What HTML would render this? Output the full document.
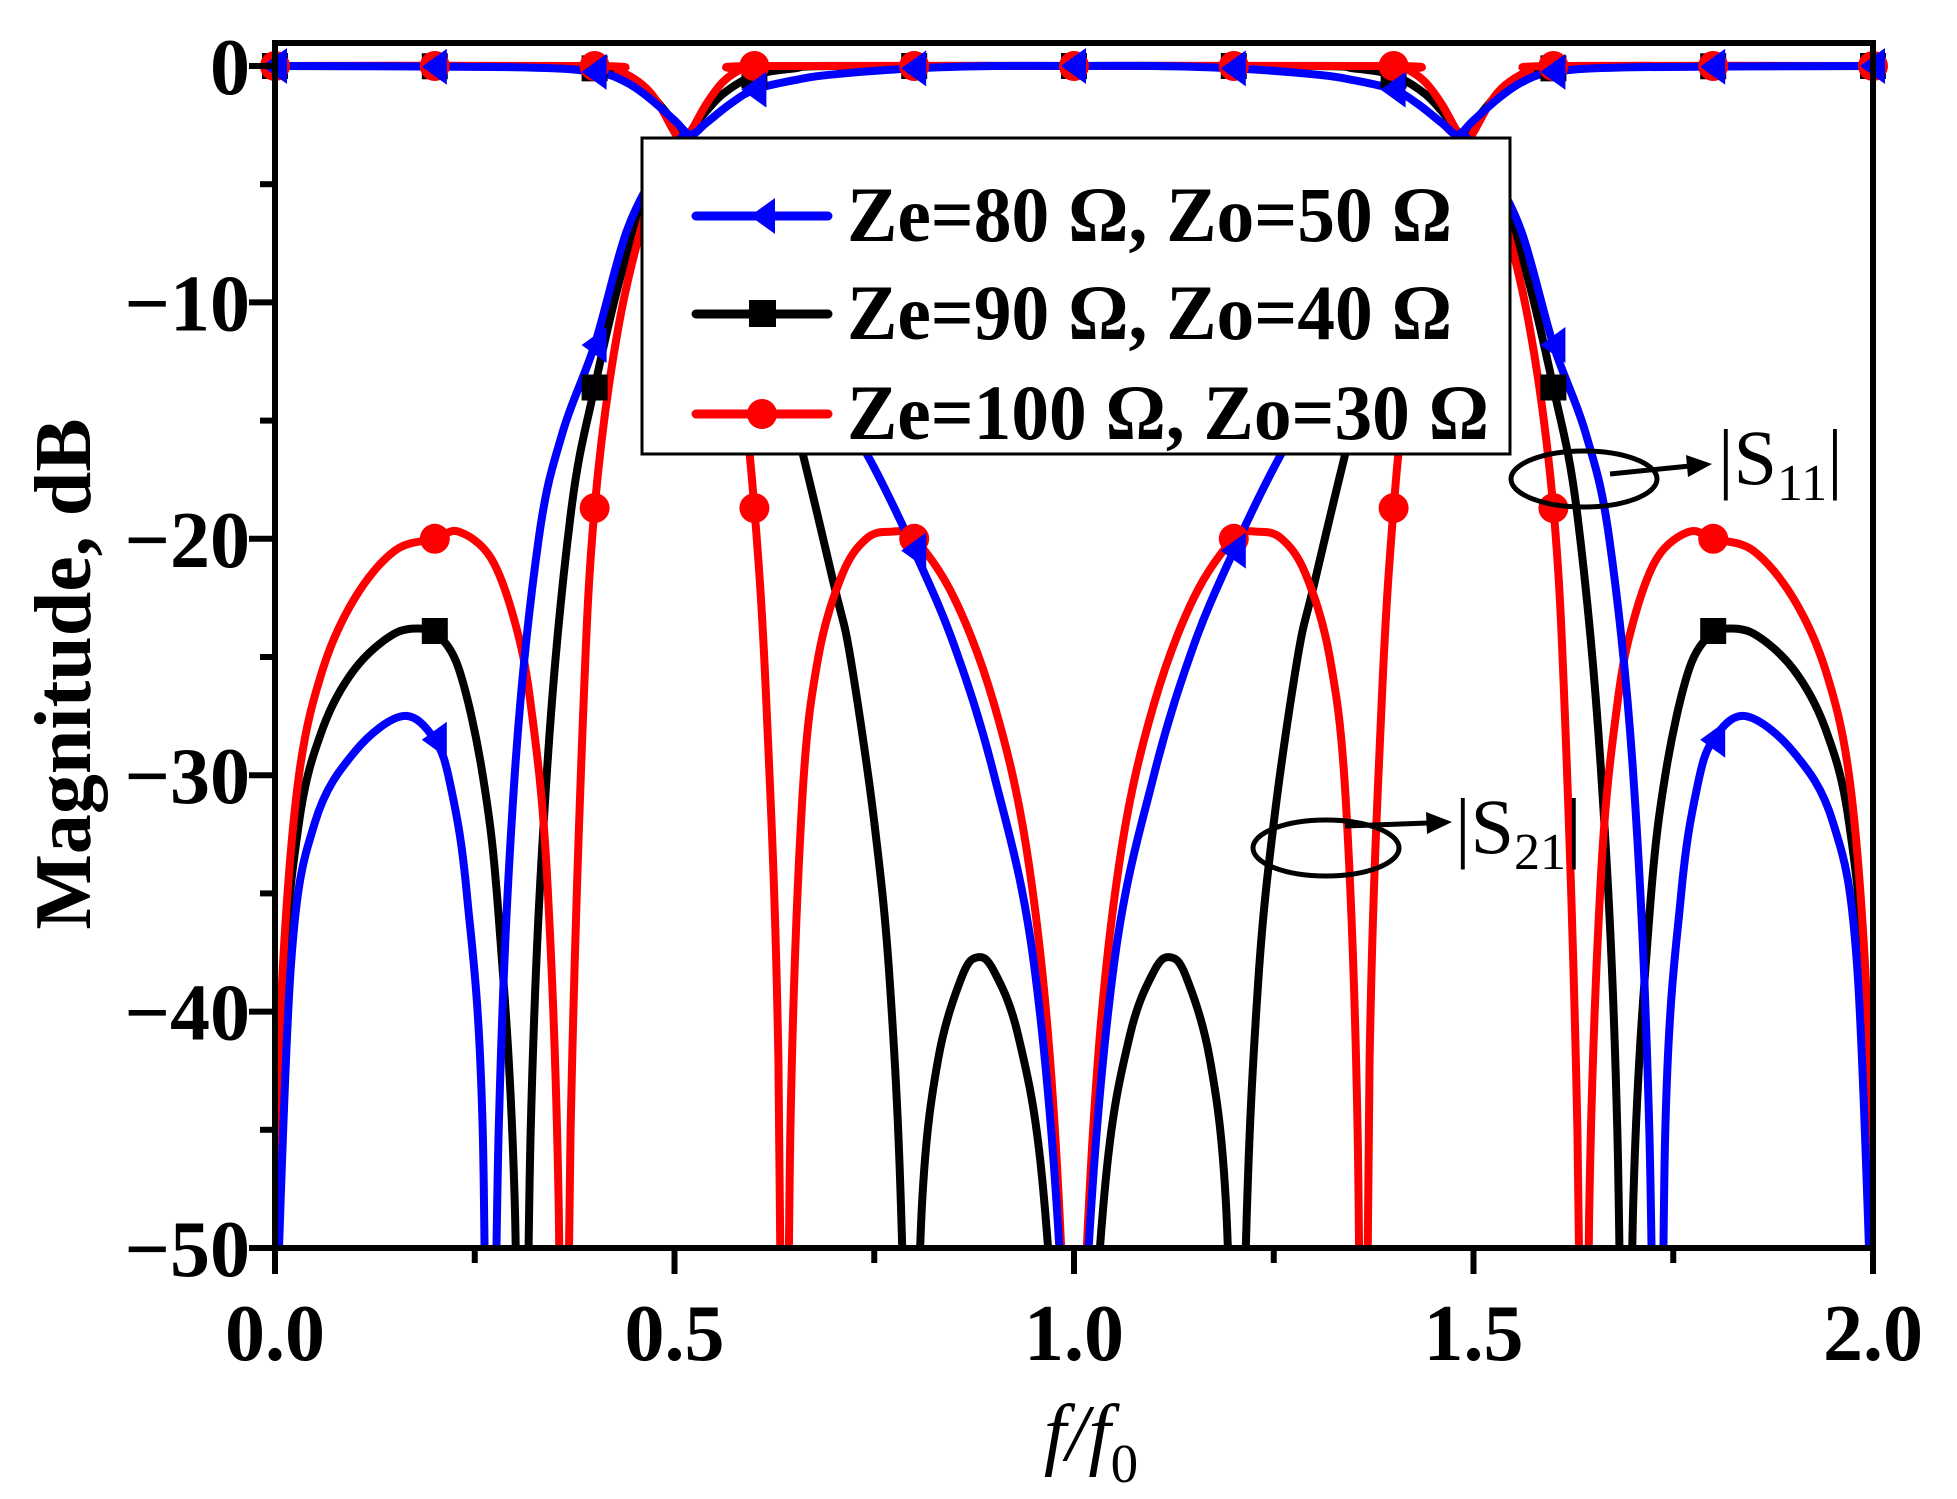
<!DOCTYPE html>
<html><head><meta charset="utf-8"><style>
html,body{margin:0;padding:0;background:#fff;overflow:hidden;width:1957px;height:1499px;}
svg{display:block;}
text{font-family:"Liberation Serif",serif;}
</style></head><body>
<svg id="chart" width="1957" height="1499" viewBox="0 0 1957 1499" xmlns="http://www.w3.org/2000/svg">
<defs><clipPath id="plotclip"><rect x="275" y="43" width="1598" height="1205"/></clipPath></defs>
<rect x="0" y="0" width="1957" height="1499" fill="#fff"/>
<g id="curves" clip-path="url(#plotclip)"></g>
<g id="markers"></g>
<g id="axes"></g>
<text x="0" y="0" transform="translate(90,674) rotate(-90)" text-anchor="middle" font-size="80" font-weight="bold">Magnitude, dB</text>
<text x="1091" y="1460" text-anchor="middle" font-size="80" font-style="italic">f/f<tspan font-size="55" dy="22" font-style="normal">0</tspan></text>
<g>
<rect x="642" y="138" width="868" height="316" fill="#fff" stroke="#000" stroke-width="3"/>
<g>
<line x1="696" y1="216" x2="828" y2="216" stroke="#0000ff" stroke-width="9" stroke-linecap="round"/>
<polygon points="750,216 775,198 775,234" fill="#0000ff"/>
<text x="847" y="241" font-size="78" font-weight="bold" textLength="605" lengthAdjust="spacingAndGlyphs">Ze=80 Ω, Zo=50 Ω</text></g>
<g>
<line x1="696" y1="314" x2="828" y2="314" stroke="#000" stroke-width="9" stroke-linecap="round"/>
<rect x="749" y="300" width="27" height="27" fill="#000"/>
<text x="847" y="339" font-size="78" font-weight="bold" textLength="605" lengthAdjust="spacingAndGlyphs">Ze=90 Ω, Zo=40 Ω</text></g>
<g>
<line x1="696" y1="414" x2="828" y2="414" stroke="#ff0000" stroke-width="9" stroke-linecap="round"/>
<circle cx="762" cy="414" r="15" fill="#ff0000"/>
<text x="847" y="439" font-size="78" font-weight="bold" textLength="642" lengthAdjust="spacingAndGlyphs">Ze=100 Ω, Zo=30 Ω</text></g>
</g>
<g>
<ellipse cx="1584" cy="479" rx="73" ry="28" fill="none" stroke="#000" stroke-width="5"/>
<line x1="1610" y1="474" x2="1690" y2="466" stroke="#000" stroke-width="5"/>
<polygon points="1712,464 1686,455 1688,477" fill="#000"/>
<text x="1718" y="484" font-size="78">|S<tspan font-size="52" dy="16">11</tspan><tspan dy="-16">|</tspan></text>
</g>
<g>
<ellipse cx="1326" cy="848" rx="73" ry="28" fill="none" stroke="#000" stroke-width="5"/>
<line x1="1345" y1="826" x2="1428" y2="823" stroke="#000" stroke-width="5"/>
<polygon points="1452,822 1426,812 1427,834" fill="#000"/>
<text x="1455" y="853" font-size="78">|S<tspan font-size="52" dy="16">21</tspan><tspan dy="-16">|</tspan></text>
</g>
</svg>
<script>
// ---- data (f/f0, dB) ----
const blueS11F = [0,0.02,0.05,0.1,0.16,0.2,0.22,0.24,0.26,0.268,0.28,0.3,0.33,0.36,0.4,0.44,0.48,0.5,0.52,0.56,0.6,0.65,0.7,0.75,0.8,0.85,0.9,0.95,0.985,1.0,1.015,1.05,1.1,1.15,1.2,1.25,1.3,1.35,1.4,1.44,1.48,1.5,1.52,1.56,1.6,1.64,1.67,1.7,1.72,1.732,1.74,1.76,1.78,1.8,1.84,1.9,1.95,1.98,2.0];
const blueS11 = [-55,-38,-32,-29,-27.5,-28.5,-30.5,-35,-45,-70,-45,-30,-20,-15.5,-11.8,-7,-4.3,-3.4,-3.0,-5,-7.5,-11,-14,-17,-20.5,-24.5,-30,-38,-52,-70,-52,-38,-30,-24.5,-20.5,-17,-14,-11,-7.5,-5,-3.0,-3.4,-4.3,-7,-11.8,-15.5,-20,-30,-45,-70,-45,-35,-30.5,-28.5,-27.5,-29,-32,-38,-55];
const blackS11F = [0,0.01,0.03,0.06,0.1,0.15,0.19,0.2,0.23,0.26,0.28,0.3,0.309,0.32,0.34,0.37,0.4,0.44,0.48,0.515,0.55,0.6,0.65,0.7,0.72,0.75,0.77,0.785,0.795,0.8,0.81,0.83,0.86,0.88,0.9,0.93,0.96,0.985,1.0,1.015,1.04,1.07,1.1,1.12,1.14,1.17,1.19,1.2,1.205,1.215,1.23,1.25,1.28,1.3,1.35,1.4,1.45,1.485,1.52,1.56,1.6,1.63,1.66,1.68,1.691,1.7,1.72,1.74,1.77,1.8,1.81,1.85,1.9,1.94,1.97,1.99,2.0];
const blackS11 = [-60,-40,-32,-28,-25.5,-24,-23.8,-23.9,-25.5,-30,-36,-48,-70,-45,-30,-19,-13.6,-8,-4.5,-3,-5,-9,-15,-22,-25,-32,-39,-50,-70,-60,-48,-42,-38.5,-37.7,-38.3,-41,-47,-60,-75,-60,-47,-41,-38.3,-37.7,-38.5,-42,-48,-60,-70,-50,-39,-32,-25,-22,-15,-9,-5,-3,-4.5,-8,-13.6,-19,-30,-45,-70,-48,-36,-30,-25.5,-23.9,-23.8,-24,-25.5,-28,-32,-40,-60];
const redS11F = [0,0.01,0.03,0.06,0.1,0.15,0.2,0.23,0.27,0.3,0.32,0.34,0.355,0.36,0.37,0.385,0.4,0.43,0.47,0.5,0.53,0.56,0.58,0.6,0.615,0.63,0.638,0.645,0.66,0.68,0.71,0.74,0.77,0.8,0.85,0.9,0.94,0.97,0.99,1.0,1.01,1.03,1.06,1.1,1.15,1.2,1.23,1.26,1.29,1.32,1.34,1.355,1.362,1.37,1.385,1.4,1.42,1.44,1.47,1.5,1.53,1.57,1.6,1.615,1.63,1.64,1.645,1.66,1.68,1.7,1.73,1.77,1.8,1.85,1.9,1.94,1.97,1.99,2.0];
const redS11 = [-48,-38,-30,-25.5,-22.5,-20.5,-20,-19.7,-20.8,-23.5,-27,-34,-48,-70,-45,-28,-18.7,-11,-5.5,-3.2,-4,-7.5,-12,-18.7,-27,-42,-70,-45,-31,-25,-21.5,-20,-19.7,-20,-22.5,-27,-33,-42,-55,-70,-55,-42,-33,-27,-22.5,-20,-19.7,-20,-21.5,-25,-31,-45,-70,-42,-27,-18.7,-12,-7.5,-4,-3.2,-5.5,-11,-18.7,-28,-45,-70,-48,-34,-27,-23.5,-20.8,-19.7,-20,-20.5,-22.5,-25.5,-30,-38,-48];
const blueS21F = [0,0.3,0.4,0.44,0.47,0.5,0.52,0.54,0.57,0.6,0.65,0.7,0.8,0.9,1.0,1.1,1.2,1.3,1.35,1.4,1.43,1.46,1.48,1.5,1.53,1.56,1.6,1.7,2.0];
const blueS21 = [0,-0.05,-0.25,-0.7,-1.4,-2.3,-2.9,-2.4,-1.6,-1.0,-0.6,-0.35,-0.1,0,0,0,-0.1,-0.35,-0.6,-1.0,-1.6,-2.4,-2.9,-2.3,-1.4,-0.7,-0.25,-0.05,0];
const blackS21F = [0,0.35,0.4,0.44,0.47,0.5,0.515,0.53,0.56,0.6,0.65,0.7,1.0,1.3,1.35,1.4,1.44,1.47,1.485,1.5,1.53,1.56,1.6,1.65,2.0];
const blackS21 = [0,-0.02,-0.1,-0.5,-1.2,-2.4,-2.9,-2.3,-1.2,-0.4,-0.1,0,0,0,-0.1,-0.4,-1.2,-2.3,-2.9,-2.4,-1.2,-0.5,-0.1,-0.02,0];
const redS21F = [0,0.4,0.43,0.46,0.48,0.5,0.51,0.52,0.54,0.56,0.58,0.6,1.0,1.4,1.42,1.44,1.46,1.48,1.49,1.5,1.52,1.54,1.57,1.6,2.0];
const redS21 = [0,0,-0.2,-0.8,-1.6,-2.8,-3.2,-2.8,-1.6,-0.7,-0.2,0,0,0,-0.2,-0.7,-1.6,-2.8,-3.2,-2.8,-1.6,-0.8,-0.2,0,0];
const markerF = [0,0.2,0.4,0.6,0.8,1.0,1.2,1.4,1.6,1.8,2.0];
const xTicks = [0,0.5,1.0,1.5,2.0];
const xTickLabels = ["0.0","0.5","1.0","1.5","2.0"];
const yTicks = [0,-10,-20,-30,-40,-50];
const yTickLabels = ["0","\u221210","\u221220","\u221230","\u221240","\u221250"];

// ---- axis functions ----
const X0=275, X1=1873, Y0=66, Y1=1248;
const sx = f => X0 + (f-0)/(2-0)*(X1-X0);
const sy = d => Y0 + (0-d)/(0-(-50))*(Y1-Y0);
const NS="http://www.w3.org/2000/svg";
function mk(tag, attrs){const e=document.createElementNS(NS,tag);for(const k in attrs)e.setAttribute(k,attrs[k]);return e;}
function pathD(F,V){
  const p=F.map((f,i)=>[sx(f),sy(V[i])]);
  let d=`M${p[0][0].toFixed(1)},${p[0][1].toFixed(1)}`;
  for(let i=0;i<p.length-1;i++){
    const a=p[Math.max(0,i-1)],b=p[i],c=p[i+1],e=p[Math.min(p.length-1,i+2)];
    const t=6;
    d+=` C${(b[0]+(c[0]-a[0])/t).toFixed(1)},${(b[1]+(c[1]-a[1])/t).toFixed(1)} ${(c[0]-(e[0]-b[0])/t).toFixed(1)},${(c[1]-(e[1]-b[1])/t).toFixed(1)} ${c[0].toFixed(1)},${c[1].toFixed(1)}`;
  }
  return d;
}
function interp(F,V,f){
  for(let i=0;i<F.length-1;i++){if(f>=F[i]&&f<=F[i+1]){const t=(f-F[i])/(F[i+1]-F[i]);return V[i]+t*(V[i+1]-V[i]);}}
  return V[V.length-1];
}
const curves=document.getElementById('curves');
const markers=document.getElementById('markers');
const series=[
 {name:'ze90',color:'#000000',shape:'square',s11F:blackS11F,s11:blackS11,s21F:blackS21F,s21:blackS21},
 {name:'ze100',color:'#ff0000',shape:'circle',s11F:redS11F,s11:redS11,s21F:redS21F,s21:redS21},
 {name:'ze80',color:'#0000ff',shape:'triangle',s11F:blueS11F,s11:blueS11,s21F:blueS21F,s21:blueS21}
];
series.forEach(s=>{
  [['s11',s.s11F,s.s11],['s21',s.s21F,s.s21]].forEach(([kind,F,V])=>{
    const p=mk('path',{d:pathD(F,V),fill:'none',stroke:s.color,'stroke-width':8,'stroke-linejoin':'round'});
    
    
    curves.appendChild(p);
    markerF.forEach(f=>{
      const v=interp(F,V,f);
      if(v<-40) return;
      const cx=sx(f), cy=sy(v);
      let m;
      if(s.shape==='square') m=mk('rect',{x:cx-13,y:cy-13,width:26,height:26,fill:s.color});
      else if(s.shape==='circle') m=mk('circle',{cx:cx,cy:cy,r:15,fill:s.color});
      else m=mk('polygon',{points:`${cx-13},${cy} ${cx+12},${cy-18} ${cx+12},${cy+18}`,fill:s.color});
      
      
      markers.appendChild(m);
    });
  });
});
// ---- axes ----
const axes=document.getElementById('axes');
const frame=mk('rect',{x:X0,y:43,width:X1-X0,height:Y1-43,fill:'none',stroke:'#000','stroke-width':6});


axes.appendChild(frame);
xTicks.forEach((t,i)=>{
  const l=mk('line',{x1:sx(t),y1:Y1,x2:sx(t),y2:Y1+26,stroke:'#000','stroke-width':6});
  
  
  axes.appendChild(l);
  if(i<xTicks.length-1){
    const m=mk('line',{x1:sx(t+0.25),y1:Y1,x2:sx(t+0.25),y2:Y1+15,stroke:'#000','stroke-width':6});
    
    
    axes.appendChild(m);
  }
  const tx=mk('text',{x:sx(t),y:1360,'text-anchor':'middle','font-size':80,'font-weight':'bold'});
  tx.textContent=xTickLabels[i];
  
  
  axes.appendChild(tx);
});
yTicks.forEach((t,i)=>{
  const l=mk('line',{x1:X0-26,y1:sy(t),x2:X0,y2:sy(t),stroke:'#000','stroke-width':6});
  
  
  axes.appendChild(l);
  if(i<yTicks.length-1){
    const m=mk('line',{x1:X0-15,y1:sy(t-5),x2:X0,y2:sy(t-5),stroke:'#000','stroke-width':6});
    
    
    axes.appendChild(m);
  }
  const tx=mk('text',{x:250,y:sy(t)+28,'text-anchor':'end','font-size':80,'font-weight':'bold'});
  tx.textContent=yTickLabels[i];
  
  
  axes.appendChild(tx);
});
</script>
</body></html>
